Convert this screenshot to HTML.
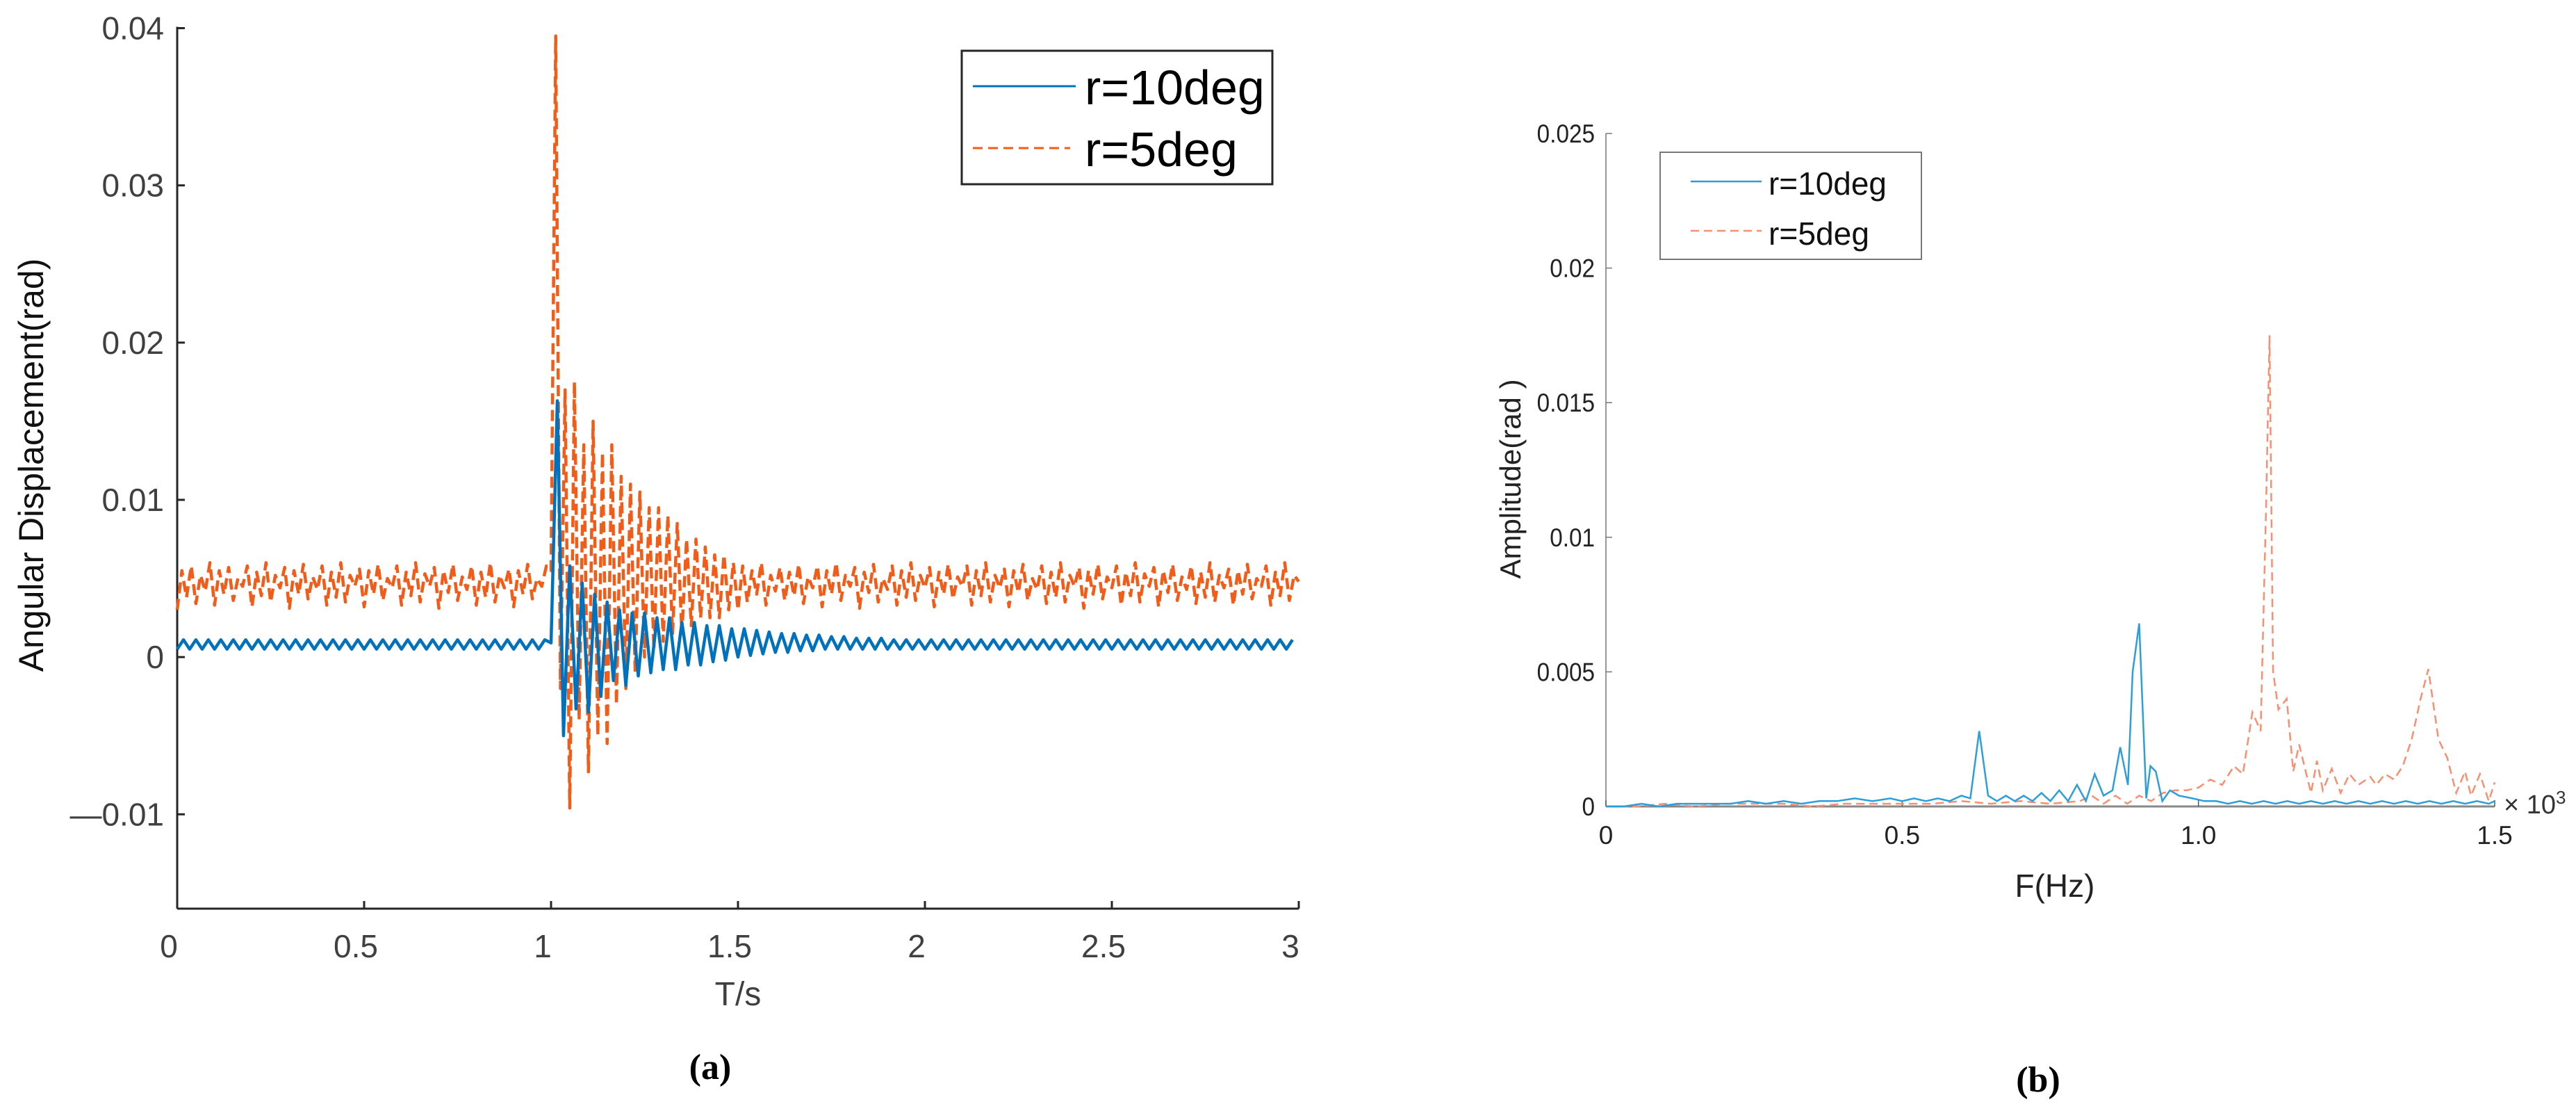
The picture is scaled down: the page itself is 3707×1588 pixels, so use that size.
<!DOCTYPE html>
<html><head><meta charset="utf-8"><style>
html,body{margin:0;padding:0;background:#fff;}
svg{display:block;font-family:"Liberation Sans",Arial,sans-serif;}
</style></head><body>
<svg id="fig" width="3707" height="1588" viewBox="0 0 3707 1588" xmlns="http://www.w3.org/2000/svg">
<g id="left"></g>
<g id="right"></g>
</svg>
<script>
// ---- Chart (a) data: alternating extrema, units of 1e-4 rad, sampled every 1/60 s (blue) and 1/80 s (orange)
const timeTicks = [0, 0.5, 1, 1.5, 2, 2.5, 3];
const timeTickLabels = ["0", "0.5", "1", "1.5", "2", "2.5", "3"];
const dispTicks = [-0.01, 0, 0.01, 0.02, 0.03, 0.04];
const dispTickLabels = ["\u20140.01", "0", "0.01", "0.02", "0.03", "0.04"];
const blueStep = 1/60;
const blueVals = [
5,11,5,11,5,11,5,11,5,11,5,11,5,11,5,11,5,11,5,11,5,11,5,11,5,11,5,11,5,11,
5,11,5,11,5,11,5,11,5,11,5,11,5,11,5,11,5,11,5,11,5,11,5,11,5,11,5,11,5,11,
9,163,-50,58,-33,47,-35,40,-25,35,-15,30,-18,28,-12,28,-10,25,-8,25,-8,22,-5,22,-5,20,-3,20,-2,18,0,18,1,17,2,16,3,15,3,15,4,14,4,14,5,13,5,13,5,12,5,12,5,12,
5,11,5,11,5,11,5,11,5,11,5,11,5,11,5,11,5,11,5,11,5,11,5,11,5,11,5,11,5,11,5,11,
5,11,5,11,5,11,5,11,5,11,5,11,5,11,5,11,5,11,5,11,5,11,5,11,5,11,5,11,5,11,5,11,5,11];
const orangeStep = 1/80;
const orangeVals = [
30,55,38,58,34,52,42,60,33,55,40,57,36,50,45,58,32,54,39,60,35,52,44,57,31,55,40,59,37,51,
43,58,33,54,38,60,35,52,45,56,32,55,40,59,36,50,44,58,33,54,39,60,35,53,45,57,31,55,41,59,
36,51,43,58,33,54,38,60,35,52,44,56,32,55,40,59,37,50,45,58,
55,395,-20,170,-96,175,-40,135,-73,150,-50,130,-55,135,-30,115,-20,110,-10,105,0,95,5,95,10,90,15,85,15,75,20,75,25,70,25,65,25,65,30,60,30,
58,35,55,40,60,33,52,42,57,36,54,39,59,34,51,44,58,32,55,40,60,36,52,45,57,31,54,41,59,35,
50,43,58,33,55,38,60,36,52,44,57,32,54,40,59,37,51,45,58,33,55,39,60,35,52,44,56,32,55,41,
59,36,50,43,58,34,54,38,60,35,52,45,57,31,55,40,59,37,51,44,58,33,54,39,60,35,53,45,57,32,
55,41,59,36,51,43,58,34,54,38,60,35,52,44,56,33,55,40,59,37,50,45,58,33,54,39,60,36,52,48];

// ---- Chart (b) data: frequency (Hz) and amplitude (1e-4 rad)
const freqTicks = [0, 500, 1000, 1500];
const freqTickLabels = ["0", "0.5", "1.0", "1.5"];
const ampTicks = [0, 0.005, 0.01, 0.015, 0.02, 0.025];
const ampTickLabels = ["0", "0.005", "0.01", "0.015", "0.02", "0.025"];
const blueFreq = [0,30,60,90,120,150,180,210,240,270,300,330,360,390,420,450,480,500,520,540,560,580,600,615,630,645,660,675,690,705,720,735,750,765,780,795,810,825,840,855,868,881,889,900,912,919,928,939,952,967,990,1010,1030,1050,1070,1090,1110,1130,1150,1170,1190,1210,1230,1250,1270,1290,1310,1330,1350,1370,1390,1410,1430,1450,1470,1490,1500];
const blueAmp  = [0,0,1,0,1,1,1,1,2,1,2,1,2,2,3,2,3,2,3,2,3,2,4,3,28,4,2,4,2,4,2,5,2,6,2,8,2,12,4,6,22,8,50,68,3,15,13,2,6,4,3,2,2,1,2,1,2,1,2,1,2,1,2,1,2,1,2,1,2,1,2,1,2,1,2,1,2];
const orangeFreq = [0,50,100,150,200,250,300,350,400,450,500,550,600,650,700,750,800,820,840,860,880,900,920,940,960,980,1000,1020,1040,1060,1075,1091,1105,1114,1120,1126,1135,1149,1160,1170,1180,1190,1200,1210,1225,1240,1255,1270,1290,1300,1315,1330,1345,1360,1375,1388,1405,1420,1435,1450,1460,1475,1490,1500];
const orangeAmp  = [0,0,1,0,1,1,1,0,1,1,1,1,2,1,2,1,2,4,1,4,1,4,2,5,6,6,7,10,8,15,12,35,28,110,175,50,36,40,13,23,14,5,17,6,14,5,12,8,11,8,12,10,15,25,40,51,25,18,5,13,4,12,2,9];

const NS = "http://www.w3.org/2000/svg";
function mk(parent, tag, attrs, text) {
  const e = document.createElementNS(NS, tag);
  for (const k in attrs) e.setAttribute(k, attrs[k]);
  if (text !== undefined) e.textContent = text;
  parent.appendChild(e);
  return e;
}
const L = document.getElementById('left');
const R = document.getElementById('right');

// ===== Left chart =====
const lx0 = 255, lx1 = 1869, ly0 = 1307, ly1 = 40.5;
const lxMin = 0, lxMax = 3, lyMin = -0.016, lyMax = 0.04;
const xL = v => lx0 + (v - lxMin) / (lxMax - lxMin) * (lx1 - lx0);
const yL = v => ly0 - (v - lyMin) / (lyMax - lyMin) * (ly0 - ly1);

let a = mk(L, 'line', {x1: lx0, y1: ly1 - 2, x2: lx0, y2: ly0, stroke: '#262626', 'stroke-width': 3});
 
a = mk(L, 'line', {x1: lx0, y1: ly0, x2: lx1, y2: ly0, stroke: '#262626', 'stroke-width': 3});
 

dispTicks.forEach((v, i) => {
  const t = mk(L, 'line', {x1: lx0, y1: yL(v), x2: lx0 + 11, y2: yL(v), stroke: '#262626', 'stroke-width': 3});
   
  const tx = mk(L, 'text', {x: 236, y: yL(v) + 16, 'text-anchor': 'end', 'font-size': 46, fill: '#404040'}, dispTickLabels[i]);
   
});
timeTicks.forEach((v, i) => {
  const t = mk(L, 'line', {x1: xL(v), y1: ly0, x2: xL(v), y2: ly0 - 11, stroke: '#262626', 'stroke-width': 3});
   
  const tx = mk(L, 'text', {x: xL(v) - 12, y: 1377, 'text-anchor': 'middle', 'font-size': 46, fill: '#404040'}, timeTickLabels[i]);
   
});
let lab = mk(L, 'text', {x: 1062, y: 1446, 'text-anchor': 'middle', 'font-size': 48, fill: '#404040'}, 'T/s');
 
lab = mk(L, 'text', {x: 0, y: 0, 'text-anchor': 'middle', 'font-size': 50, fill: '#111', transform: 'translate(62,669) rotate(-90)'}, 'Angular Displacement(rad)');
 
lab = mk(L, 'text', {x: 1022, y: 1552, 'text-anchor': 'middle', 'font-size': 52, 'font-family': '"Liberation Serif",serif', 'font-weight': 'bold', fill: '#000'}, '(a)');
 

function seriesPath(vals, step, xf, yf, scale) {
  return vals.map((v, k) => (k ? 'L' : 'M') + xf(k * step).toFixed(1) + ' ' + yf(v * scale).toFixed(1)).join(' ');
}
let p = mk(L, 'path', {d: seriesPath(orangeVals, orangeStep, xL, yL, 1e-4), fill: 'none', stroke: '#F25C19', 'stroke-width': 4.5, 'stroke-dasharray': '16 8', 'stroke-linejoin': 'round'});
 
p = mk(L, 'path', {d: seriesPath(blueVals, blueStep, xL, yL, 1e-4), fill: 'none', stroke: '#0072BD', 'stroke-width': 4.5, 'stroke-linejoin': 'round'});
 

// legend left
const lg = mk(L, 'g', {});
 
mk(lg, 'rect', {x: 1384, y: 73, width: 447, height: 192, fill: '#fff', stroke: '#262626', 'stroke-width': 3});
let le = mk(lg, 'line', {x1: 1400, y1: 124, x2: 1548, y2: 124, stroke: '#0072BD', 'stroke-width': 3});
 
le = mk(lg, 'text', {x: 1561, y: 150, 'font-size': 70, fill: '#000'}, 'r=10deg');
 
le = mk(lg, 'line', {x1: 1400, y1: 213, x2: 1540, y2: 213, stroke: '#F25C19', 'stroke-width': 3, 'stroke-dasharray': '14 8'});
 
le = mk(lg, 'text', {x: 1561, y: 239, 'font-size': 70, fill: '#000'}, 'r=5deg');
 

// ===== Right chart =====
const rx0 = 2311, rx1 = 3590, ry0 = 1160, ry1 = 192;
const xR = v => rx0 + v / 1500 * (rx1 - rx0);
const yR = v => ry0 - v / 0.025 * (ry0 - ry1);

a = mk(R, 'line', {x1: rx0, y1: ry1, x2: rx0, y2: ry0, stroke: '#777', 'stroke-width': 1.5});
 
a = mk(R, 'line', {x1: rx0, y1: ry0, x2: rx1, y2: ry0, stroke: '#888', 'stroke-width': 3});
 
ampTicks.forEach((v, i) => {
  const t = mk(R, 'line', {x1: rx0, y1: yR(v), x2: rx0 + 9, y2: yR(v), stroke: '#777', 'stroke-width': 1.5});
   
  const tx = mk(R, 'text', {x: 2295, y: yR(v) + 13, 'text-anchor': 'end', 'font-size': 37, fill: '#222', 'transform': 'translate(' + (2295*0.1) + ',0) scale(0.9,1)'}, ampTickLabels[i]);
   
});
freqTicks.forEach((v, i) => {
  const t = mk(R, 'line', {x1: xR(v), y1: ry0, x2: xR(v), y2: ry0 - 9, stroke: '#555', 'stroke-width': 1.5});
   
  const tx = mk(R, 'text', {x: xR(v), y: 1214, 'text-anchor': 'middle', 'font-size': 37, fill: '#222'}, freqTickLabels[i]);
   
});
lab = mk(R, 'text', {x: 3603, y: 1170, 'font-size': 38, fill: '#333'}, '\u00d7 10');
 
mk(lab, 'tspan', {dy: -14, 'font-size': 26}, '3');
lab = mk(R, 'text', {x: 2957, y: 1290, 'text-anchor': 'middle', 'font-size': 46, fill: '#222'}, 'F(Hz)');
 
lab = mk(R, 'text', {x: 0, y: 0, 'text-anchor': 'middle', 'font-size': 42, fill: '#222', transform: 'translate(2188,689) rotate(-90)'}, 'Amplitude(rad\u00a0)');
 
lab = mk(R, 'text', {x: 2933, y: 1570, 'text-anchor': 'middle', 'font-size': 52, 'font-family': '"Liberation Serif",serif', 'font-weight': 'bold', fill: '#000'}, '(b)');
 

function xyPath(fs, as, xf, yf) {
  return fs.map((f, k) => (k ? 'L' : 'M') + xf(f).toFixed(1) + ' ' + yf(as[k] * 1e-4).toFixed(1)).join(' ');
}
p = mk(R, 'path', {d: xyPath(orangeFreq, orangeAmp, xR, yR), fill: 'none', stroke: '#F78F70', 'stroke-width': 2.5, 'stroke-dasharray': '12 7'});
 
p = mk(R, 'path', {d: xyPath(blueFreq, blueAmp, xR, yR), fill: 'none', stroke: '#2C9FDB', 'stroke-width': 2.5});
 

const rg = mk(R, 'g', {});
 
mk(rg, 'rect', {x: 2389, y: 219, width: 376, height: 154, fill: '#fff', stroke: '#777', 'stroke-width': 2});
le = mk(rg, 'line', {x1: 2433, y1: 261, x2: 2535, y2: 261, stroke: '#2C9FDB', 'stroke-width': 2.5});
 
le = mk(rg, 'text', {x: 2545, y: 280, 'font-size': 46, fill: '#111', textLength: 170, lengthAdjust: 'spacingAndGlyphs'}, 'r=10deg');
 
le = mk(rg, 'line', {x1: 2433, y1: 332, x2: 2535, y2: 332, stroke: '#F78F70', 'stroke-width': 2.5, 'stroke-dasharray': '12 7'});
 
le = mk(rg, 'text', {x: 2545, y: 352, 'font-size': 46, fill: '#111', textLength: 145, lengthAdjust: 'spacingAndGlyphs'}, 'r=5deg');
 
</script>
</body></html>
